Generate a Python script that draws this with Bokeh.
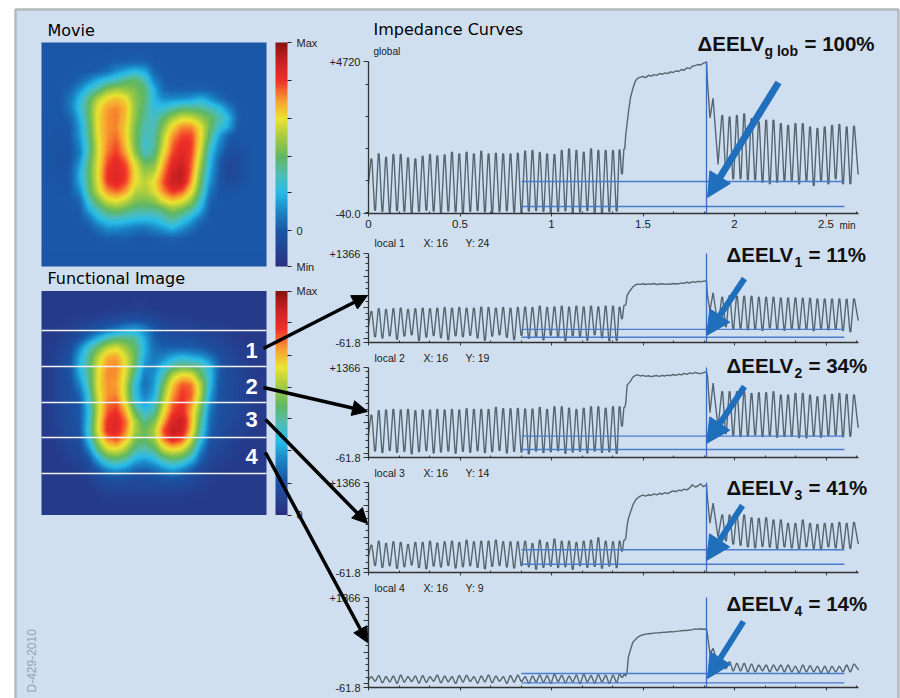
import numpy as np
from bokeh.plotting import figure
from bokeh.models import (Range1d, LinearAxis, FixedTicker, Arrow, NormalHead, ColorBar,
                          LinearColorMapper)
from bokeh.core.properties import value
from bokeh.embed import file_html
from bokeh.resources import INLINE

# ---------- shared time stamps (minutes) of the turning points ----------
t_pre_start = [0.000]
t_pre_peaks = [0.016,0.056,0.096,0.136,0.176,0.216,0.256,0.296,0.336,0.376,0.416,0.456,0.496,0.536,0.576,0.616,0.656,0.696,0.736,0.776,0.816,0.856,0.896,0.936,0.976,1.016,1.056,1.096,1.136,1.176,1.216,1.256,1.296,1.336,1.372,1.398]
t_pre_troughs = [0.036,0.076,0.116,0.156,0.196,0.236,0.276,0.316,0.356,0.396,0.436,0.476,0.516,0.556,0.596,0.636,0.676,0.716,0.756,0.796,0.836,0.876,0.916,0.956,0.996,1.036,1.076,1.116,1.156,1.196,1.236,1.276,1.316,1.356,1.385]
t_rise = [1.406,1.413,1.420,1.432,1.445,1.459,1.470,1.486,1.500,1.515,1.530,1.545,1.560,1.575,1.590,1.605,1.620,1.635,1.650,1.665,1.680,1.695,1.710,1.725,1.740,1.755,1.770,1.785,1.800,1.815,1.830,1.847]
t_post_head = [1.852,1.866,1.883,1.910]
t_post_peaks = [1.933,1.973,2.013,2.053,2.093,2.133,2.173,2.213,2.253,2.293,2.333,2.373,2.413,2.453,2.493,2.533,2.573,2.613,2.653]
t_post_troughs = [1.953,1.993,2.033,2.073,2.113,2.153,2.193,2.233,2.273,2.313,2.353,2.393,2.433,2.473,2.513,2.553,2.593,2.633,2.678]

# ---------- global curve ----------
g_start = [900]
g_pre_peaks = [1671,1828,1723,1807,1807,1702,1671,1754,1807,1765,1796,1880,1828,1880,1828,1911,1828,1848,1828,1828,1848,1911,1932,1869,1828,1807,1932,1984,1932,1880,1984,1932,1932,1932,1953,1984]
g_pre_troughs = [60,20,-10,45,30,-20,25,60,35,-15,40,15,-25,30,50,10,-30,20,45,5,-20,35,55,25,-10,30,45,-25,10,50,-15,-30,20,40,1202]
g_rise = [2450,2770,3120,3600,3880,4120,4190,4230,4250,4215,4290,4260,4310,4285,4345,4320,4365,4340,4395,4375,4430,4405,4470,4445,4520,4495,4570,4590,4625,4610,4670,4700]
g_post_head = [4100,2950,3570,1500]
g_post_peaks = [3030,2980,3030,3080,2930,2825,2880,2880,2775,2720,2775,2775,2670,2620,2670,2720,2750,2670,2690]
g_post_troughs = [1306,1046,1046,1015,1015,940,890,940,993,993,890,993,836,993,890,1046,890,890,1200]

# ---------- local 1 ----------
l1_start = [200]
l1_pre_peaks = [436,479,468,479,489,468,479,489,479,489,500,489,500,489,489,505,500,489,500,489,500,505,500,521,500,510,521,505,521,510,521,510,521,521,505,532]
l1_pre_troughs = [30,10,45,-10,40,60,-30,25,50,15,-20,45,30,55,10,-25,40,60,20,-15,50,5,35,-20,55,25,-35,45,30,-25,60,15,-35,-30,320]
l1_rise = [540,690,730,780,830,862,875,870,880,868,878,872,885,868,876,880,870,878,872,884,876,880,895,885,905,892,915,902,920,910,922,925]
l1_post_head = [700,450,740,200]
l1_post_peaks = [664,691,680,680,680,664,664,664,653,653,653,648,648,637,637,637,637,632,637]
l1_post_troughs = [190,150,165,140,155,130,170,150,135,160,145,150,125,165,140,155,130,110,300]

# ---------- local 2 ----------
l2_start = [300]
l2_pre_peaks = [611,680,691,701,691,701,680,691,691,701,691,701,691,712,701,701,701,733,712,712,717,707,707,733,701,744,744,722,701,722,744,744,722,744,744,733]
l2_pre_troughs = [40,15,50,20,35,-5,30,45,10,25,40,5,35,20,45,15,30,50,10,35,25,-5,40,15,30,45,5,25,35,10,40,20,30,5,436]
l2_rise = [800,1085,1110,1150,1215,1240,1250,1232,1242,1225,1235,1222,1232,1238,1225,1240,1232,1246,1236,1255,1242,1262,1250,1272,1258,1282,1268,1290,1275,1268,1285,1295]
l2_post_head = [1240,650,1120,420]
l2_post_peaks = [982,982,982,982,956,966,966,982,929,929,956,956,929,902,929,940,956,940,929]
l2_post_troughs = [320,285,270,275,295,270,280,260,270,280,255,250,280,260,285,290,265,275,420]

# ---------- local 3 ----------
l3_start = [200]
l3_pre_peaks = [373,436,399,426,415,383,415,415,436,404,426,436,415,452,426,436,436,452,426,426,426,436,399,452,415,468,436,436,415,436,452,489,436,426,436,452]
l3_pre_troughs = [50,20,45,5,30,55,15,-5,40,25,50,10,30,45,20,-5,35,50,25,10,45,30,-10,20,40,15,30,-10,45,20,35,5,40,15,277]
l3_rise = [480,680,790,900,1010,1085,1120,1150,1165,1150,1172,1160,1185,1170,1195,1180,1205,1190,1215,1232,1222,1245,1235,1262,1248,1280,1330,1295,1310,1345,1300,1330]
l3_post_head = [1120,720,1040,500]
l3_post_peaks = [850,850,850,850,807,796,807,770,770,717,717,770,717,701,717,717,733,717,733]
l3_post_troughs = [440,390,370,345,330,350,340,310,345,330,310,345,320,300,345,330,315,320,400]

# ---------- local 4 ----------
l4_start = [60]
l4_pre_peaks = [108,124,108,118,134,108,118,124,108,134,118,108,124,129,108,118,134,118,108,124,134,108,118,134,124,145,129,118,134,145,124,139,129,134,145,140]
l4_pre_troughs = [40,15,30,5,25,35,10,20,40,15,30,5,25,35,10,30,15,40,5,25,35,10,30,20,5,35,15,25,0,30,10,25,5,20,100]
l4_rise = [120,190,420,540,660,700,735,762,775,785,790,795,800,805,806,812,815,818,822,820,828,832,838,844,842,850,856,868,860,870,862,866]
l4_post_head = [780,480,560,300]
l4_post_peaks = [373,345,320,320,309,293,293,293,293,293,272,293,282,272,272,272,272,293,309]
l4_post_troughs = [240,205,205,188,188,205,188,205,188,188,177,188,188,177,177,188,188,188,225]

# ---------- reference lines ----------
ref_t_start = 0.836
ref_t_end = 2.60
ref_t_mark = 1.847
ref_upper = [962, 149, 277, 298, 161]
ref_lower = [179, 22, 65, 70, 12]

# ---------- labels ----------
panel_titles = ["global", "local 1", "local 2", "local 3", "local 4"]
panel_x = ["", "X: 16", "X: 16", "X: 16", "X: 16"]
panel_y = ["", "Y: 24", "Y: 19", "Y: 14", "Y: 9"]
delta_subs = ["g lob", "1", "2", "3", "4"]
delta_vals = ["= 100%", "= 11%", "= 34%", "= 41%", "= 14%"]
time_ticks = [0, 0.5, 1, 1.5, 2, 2.5]
time_labels = ["0", "0.5", "1", "1.5", "2", "2.5"]

# ---------- images: relative intensity on a coarse grid (top row first) ----------
movie_grid = [
[15,15,15,15,15,15,15,15,15,15,15,15,15,15,15,15,15,15,15,15,15,15,15,15,15],
[16,16,16,16,16,16,16,16,16,16,16,16,16,16,16,16,16,16,16,16,16,16,16,16,16],
[16,16,16,16,16,16,16,16,17,17,18,18,16,16,16,16,16,16,16,16,16,16,16,16,16],
[16,16,16,16,16,16,17,20,26,30,33,30,18,16,16,16,16,16,16,16,16,16,16,16,16],
[16,16,16,16,18,24,31,36,40,46,49,42,24,17,16,16,16,16,16,16,16,16,16,16,16],
[16,16,16,18,26,36,44,54,58,56,52,48,32,19,17,17,17,18,17,16,16,16,16,16,16],
[16,16,16,22,33,46,60,68,71,67,54,48,33,26,26,27,28,32,27,20,16,16,16,16,16],
[16,16,16,22,35,49,66,74,76,71,55,46,35,36,41,46,46,44,40,35,24,16,16,16,16],
[16,15,15,18,31,48,67,75,77,70,54,44,38,47,57,63,62,56,50,42,33,17,16,16,16],
[16,15,15,16,28,46,67,75,76,68,52,41,40,54,68,76,76,66,50,38,30,16,16,16,16],
[16,15,14,16,27,45,66,75,78,68,51,39,41,60,75,82,82,67,46,28,17,15,16,16,16],
[16,15,14,15,24,42,64,76,81,70,52,37,42,62,79,85,83,65,40,24,15,14,15,16,16],
[16,15,13,15,22,44,64,78,83,74,56,40,46,67,82,87,82,62,35,20,12,12,15,16,16],
[16,15,13,15,27,47,65,81,86,80,64,50,52,72,86,90,80,58,33,17,9,11,15,16,16],
[16,15,14,16,31,48,66,84,87,83,67,56,60,76,90,94,78,53,30,16,8,11,15,16,16],
[16,15,15,16,30,47,65,83,87,81,66,60,66,80,92,92,74,50,27,15,11,13,15,16,16],
[16,16,15,16,24,46,62,75,79,74,60,58,64,76,84,80,67,46,22,15,14,15,16,16,16],
[16,16,16,16,18,38,52,63,66,61,54,52,55,65,70,66,56,38,18,16,16,16,16,16,16],
[16,16,16,16,16,30,41,49,52,48,44,44,44,48,54,50,43,31,16,16,16,16,16,16,16],
[16,16,16,16,16,20,31,37,38,36,34,33,34,39,44,38,30,20,16,16,16,16,16,16,16],
[16,16,16,16,16,16,20,26,26,24,22,21,24,28,32,26,20,16,16,16,16,16,16,16,16],
[16,16,16,16,16,16,16,17,17,17,16,16,16,17,18,17,16,16,16,16,16,16,16,16,16],
[16,16,16,16,16,16,16,16,16,16,16,16,16,16,16,16,16,16,16,16,16,16,16,16,16],
[15,15,15,15,15,15,15,15,15,15,15,15,15,15,15,15,15,15,15,15,15,15,15,15,15],
[15,15,15,15,15,15,15,15,15,15,15,15,15,15,15,15,15,15,15,15,15,15,15,15,15],
]
functional_grid = [
[4,4,4,4,4,4,4,4,4,4,4,4,4,4,4,4,4,4,4,4,4,4,4,4,4],
[4,4,4,4,4,4,4,4,4,4,5,5,4,4,4,4,4,4,4,4,4,4,4,4,4],
[4,4,4,4,4,4,4,5,5,6,6,6,5,5,4,4,4,4,4,4,4,4,4,4,4],
[4,4,4,5,6,6,8,9,10,12,13,12,9,7,6,6,6,5,5,4,4,4,4,4,4],
[4,4,5,6,8,11,14,18,22,26,28,24,16,11,9,8,8,7,6,6,5,4,4,4,4],
[4,4,6,9,13,22,32,41,46,46,44,30,18,14,13,13,12,10,9,8,6,5,4,4,4],
[4,5,8,11,24,38,50,60,64,56,48,32,20,17,17,17,17,15,12,10,8,6,5,4,4],
[4,5,9,14,30,44,60,72,74,63,50,30,22,24,30,33,30,28,22,14,10,7,5,4,4],
[4,6,10,15,32,46,64,75,76,65,48,26,24,33,43,49,47,44,33,17,11,8,6,4,4],
[4,6,10,14,30,44,65,76,75,63,42,22,26,42,60,68,66,50,35,16,11,9,6,5,4],
[4,6,10,13,24,42,66,75,74,60,35,20,28,50,70,80,78,60,34,15,11,9,7,5,4],
[4,6,10,13,18,38,64,75,76,60,35,23,30,55,74,83,80,60,30,14,11,9,7,5,4],
[4,6,10,12,16,36,62,77,80,64,38,28,36,60,78,84,76,55,26,14,11,9,7,5,4],
[4,6,9,12,15,34,62,80,84,72,48,36,42,65,82,86,72,50,22,13,11,9,7,5,4],
[4,6,9,12,15,36,64,84,87,78,58,44,52,72,88,92,72,46,20,13,10,8,6,5,4],
[4,5,8,11,14,38,65,85,87,76,58,50,58,80,93,90,70,42,18,12,9,7,6,4,4],
[4,5,7,10,12,34,58,76,80,70,52,48,56,76,86,80,62,35,15,11,8,6,5,4,4],
[4,4,6,8,10,24,48,63,66,58,44,42,46,62,68,64,50,26,12,9,7,5,4,4,4],
[4,4,5,7,8,14,32,46,49,44,33,30,34,44,49,46,36,18,10,7,6,5,4,4,4],
[4,4,4,5,6,10,18,28,32,28,21,19,22,28,33,28,20,12,7,5,4,4,4,4,4],
[4,4,4,4,5,7,10,14,15,14,12,12,13,15,17,14,11,8,6,5,4,4,4,4,4],
[4,4,4,4,4,5,7,9,10,10,9,9,9,10,10,9,8,6,5,4,4,4,4,4,4],
[4,4,4,4,4,4,5,6,6,6,6,6,6,6,6,6,5,5,4,4,4,4,4,4,4],
[4,4,4,4,4,4,4,5,5,5,5,5,5,5,5,5,4,4,4,4,4,4,4,4,4],
[4,4,4,4,4,4,4,4,4,4,4,4,4,4,4,4,4,4,4,4,4,4,4,4,4],
]
ramp_levels = [0, 16, 25, 33, 41, 49, 58, 66, 74, 83, 92, 100]
ramp_colors = ["#2a3080","#1a58a8","#1a88c8","#28bce8","#50bcb4","#60b860","#a8cc40","#ece430","#f8a030","#f03028","#c82020","#881410"]

# ---------- helpers ----------
FLAT = 0.0025  # half width of the flattened top of each breath (the recorder's blocky peaks)

def weave_t(start, pk, tr):
    out = list(start)
    for i, v in enumerate(pk):
        out += [v - FLAT, v + FLAT]
        if i < len(tr):
            out += [tr[i] - FLAT, tr[i] + FLAT]
    return out

def weave_v(start, pk, tr):
    out = list(start)
    for i, v in enumerate(pk):
        out += [v, v]
        if i < len(tr):
            out += [tr[i], tr[i]]
    return out

t_all = (weave_t(t_pre_start, t_pre_peaks, t_pre_troughs) + t_rise + t_post_head
         + weave_t([], t_post_peaks, t_post_troughs))

def series(start, prep, pret, rise, head, postp, postt):
    return weave_v(start, prep, pret) + rise + head + weave_v([], postp, postt)

curves = [
    series(g_start, g_pre_peaks, g_pre_troughs, g_rise, g_post_head, g_post_peaks, g_post_troughs),
    series(l1_start, l1_pre_peaks, l1_pre_troughs, l1_rise, l1_post_head, l1_post_peaks, l1_post_troughs),
    series(l2_start, l2_pre_peaks, l2_pre_troughs, l2_rise, l2_post_head, l2_post_peaks, l2_post_troughs),
    series(l3_start, l3_pre_peaks, l3_pre_troughs, l3_rise, l3_post_head, l3_post_peaks, l3_post_troughs),
    series(l4_start, l4_pre_peaks, l4_pre_troughs, l4_rise, l4_post_head, l4_post_peaks, l4_post_troughs),
]

PX_L, PX_R, PX_T, PX_B = 0, 900, 0, 698
W, H = PX_R - PX_L, PX_B - PX_T

def xr(p0, v0, p1, v1):
    k = (v1 - v0) / (p1 - p0)
    return Range1d(start=v0 + (PX_L - p0) * k, end=v0 + (PX_R - p0) * k)

def yr(p0, v0, p1, v1):
    k = (v1 - v0) / (p1 - p0)
    return Range1d(start=v0 + (PX_B - p0) * k, end=v0 + (PX_T - p0) * k)

p = figure(width=W, height=H, x_range=Range1d(PX_L, PX_R), y_range=Range1d(PX_B, PX_T),
           x_axis_type=None, y_axis_type=None, toolbar_location=None, output_backend="svg",
           min_border=0, outline_line_color=None, background_fill_color="white",
           border_fill_color="white")
p.grid.visible = False

def label(x, y, txt, size=11, font="Liberation Sans", color="#1a1a1a", align="left",
          style="normal", angle=0.0):
    # y is the wanted text baseline; horizontal texts are anchored on their middle
    yy = y if angle else y - 0.3 * size
    p.text(x=[x], y=[yy], text=[txt], text_font=value(font), text_font_size=f"{size}px", text_color=color,
           text_align=align, text_baseline="middle", text_font_style=style, angle=angle)

# panel
p.quad(left=[15], right=[898], top=[9], bottom=[710], fill_color="#cfdff0",
       line_color="#b6b9bc", line_width=2.5)

# colour ramp
lv = np.array(ramp_levels, float)
rgb = np.array([[int(c[i:i+2], 16) for i in (1, 3, 5)] for c in ramp_colors], float)
grid100 = np.linspace(0, 100, 256)
palette = ["#%02x%02x%02x" % tuple(int(round(np.interp(g, lv, rgb[:, k]))) for k in range(3)) for g in grid100]
mapper = LinearColorMapper(palette=palette, low=0, high=100)

def display(grid):
    a = np.array(grid, float)[::-1]
    n = a.shape[0]
    fine = np.linspace(0, n - 1, 225)
    base = np.arange(n)
    b = np.array([np.interp(fine, base, r) for r in a])
    b = np.array([np.interp(fine, base, c) for c in b.T]).T
    for _ in range(3):
        c = b.copy()
        c[1:-1, :] = (b[:-2, :] + 2 * b[1:-1, :] + b[2:, :]) / 4
        d = c.copy()
        d[:, 1:-1] = (c[:, :-2] + 2 * c[:, 1:-1] + c[:, 2:]) / 4
        b = d
    return b

p.extra_y_ranges["movie"] = yr(266, 0, 42, 1)
p.extra_y_ranges["func"] = yr(514.5, 0, 290.5, 1)
p.image(image=[display(movie_grid)], x=41, y=0, dw=225, dh=1, color_mapper=mapper, y_range_name="movie")
p.image(image=[display(functional_grid)], x=41, y=0, dw=225, dh=1, color_mapper=mapper, y_range_name="func")

# horizontal stripes on the functional image (ROI boundaries)
for yy in (330, 366, 402, 437, 473):
    p.segment(x0=[41], x1=[266], y0=[yy], y1=[yy], line_color="#f2f2f6", line_width=1.6)

for xx, yy, n in ((251, 357, "1"), (251, 393, "2"), (251, 426, "3"), (251, 463, "4")):
    label(xx, yy, n, size=22, color="white", align="center", style="bold")

# colour bars
cb1 = ColorBar(color_mapper=mapper, location=(275, 432), width=12, height=224, padding=0, margin=0,
               ticker=FixedTicker(ticks=[0, 16, 33, 49, 66, 83, 100]),
               major_label_overrides={0: "Min", 16: "0", 33: "", 49: "", 66: "", 83: "", 100: "Max"},
               major_tick_in=0, major_tick_out=4, major_tick_line_color="#222222", bar_line_color=None,
               major_label_text_font="Liberation Sans", major_label_text_font_size="11px",
               major_label_text_color="#222222", label_standoff=5, background_fill_color=None,
               border_line_color=None)
cb2 = ColorBar(color_mapper=mapper, location=(275, 183.5), width=12, height=224, padding=0, margin=0,
               ticker=FixedTicker(ticks=[0, 14, 29, 43, 57, 71, 86, 100]),
               major_label_overrides={0: "0", 14: "", 29: "", 43: "", 57: "", 71: "", 86: "", 100: "Max"},
               major_tick_in=0, major_tick_out=4, major_tick_line_color="#222222", bar_line_color=None,
               major_label_text_font="Liberation Sans", major_label_text_font_size="11px",
               major_label_text_color="#222222", label_standoff=5, background_fill_color=None,
               border_line_color=None)
p.add_layout(cb1, "center")
p.add_layout(cb2, "center")

# headings
label(47, 35, "Movie", size=16, font="DejaVu Sans", color="#000000")
label(47, 283, "Functional Image", size=16, font="DejaVu Sans", color="#000000")
label(373, 34, "Impedance Curves", size=16, font="DejaVu Sans", color="#000000")
label(31.5, 692, "D-429-2010", size=12, color="#98a2ad", angle=np.pi / 2)

# curve panels
tops = [61, 253, 367, 482, 597]
bottoms = [213, 342, 457, 572, 687]
lows = [-40, -61.8, -61.8, -61.8, -61.8]
highs = [4720, 1366, 1366, 1366, 1366]
title_y = [54, 246, 361, 476, 591]
delta_base = [49, 260, 371, 493, 609]
delta_x = [697, 726, 726, 726, 726]
arrow_tail = [(778, 82), (744, 278), (744, 386), (742, 505), (743, 621)]
arrow_tip = [(707, 197), (706, 335), (706, 443), (706, 560), (707, 678)]
sub_x = [763, 793, 793, 793, 793]
val_x = [804, 808, 808, 808, 808]

minor_x = [1 / 6, 2 / 6, 4 / 6, 5 / 6, 7 / 6, 8 / 6, 10 / 6, 11 / 6, 13 / 6, 14 / 6, 16 / 6]

for i in range(5):
    tn, yn = f"t{i}", f"y{i}"
    p.extra_x_ranges[tn] = xr(368, 0, 368 + 183 * 2.5, 2.5)
    p.extra_y_ranges[yn] = yr(bottoms[i], lows[i], tops[i], highs[i])

    p.line(x=t_all, y=curves[i], x_range_name=tn, y_range_name=yn, line_color="#566771", line_width=1.4)
    # reference lines
    p.segment(x0=[ref_t_start] * 2, x1=[ref_t_end] * 2, y0=[ref_upper[i], ref_lower[i]],
              y1=[ref_upper[i], ref_lower[i]], x_range_name=tn, y_range_name=yn,
              line_color="#4a7ccb", line_width=1.4)
    p.segment(x0=[ref_t_mark], x1=[ref_t_mark], y0=[lows[i]], y1=[highs[i]], x_range_name=tn,
              y_range_name=yn, line_color="#3d6fc4", line_width=1.3)

    if i == 0:
        maj_y = [-40, 4720]
        min_y = [0, 1000, 2000, 3000, 4000]
        ov = {-40: "-40.0", 4720: "+4720"}
    else:
        maj_y = [-61.8, 0, 500, 1000, 1366]
        min_y = [100, 200, 300, 400, 600, 700, 800, 900, 1100, 1200, 1300]
        ov = {-61.8: "-61.8", 0: "", 500: "", 1000: "", 1366: "+1366"}
    ya = LinearAxis(x_range_name=tn, y_range_name=yn, fixed_location=0, bounds=(lows[i], highs[i]),
                    ticker=FixedTicker(ticks=maj_y, minor_ticks=min_y), major_label_overrides=ov,
                    axis_line_color="#333333", axis_line_width=1.3, major_tick_line_color="#333333",
                    minor_tick_line_color="#333333", major_tick_out=5, major_tick_in=0,
                    minor_tick_out=3, minor_tick_in=0, major_label_text_font="Liberation Sans",
                    major_label_text_font_size="11px", major_label_text_color="#222222",
                    major_label_standoff=3)
    p.add_layout(ya, "left")

    xa = LinearAxis(x_range_name=tn, y_range_name=yn, fixed_location=lows[i], bounds=(0, 2.678),
                    ticker=FixedTicker(ticks=time_ticks, minor_ticks=minor_x),
                    major_label_overrides=dict(zip(time_ticks, time_labels)),
                    axis_line_color="#333333", axis_line_width=1.3, major_tick_line_color="#333333",
                    minor_tick_line_color="#333333", major_tick_out=3, major_tick_in=0,
                    minor_tick_out=0, minor_tick_in=2, major_label_text_font="Liberation Sans",
                    major_label_text_font_size="11.5px", major_label_text_color="#222222",
                    major_label_standoff=3)
    if i > 0:
        xa.major_label_text_color = None
    p.add_layout(xa, "below")

    label(373 if i == 0 else 374, title_y[i], panel_titles[i], size=10 if i == 0 else 10.5)
    if panel_x[i]:
        label(423, title_y[i], panel_x[i], size=10.5)
        label(465, title_y[i], panel_y[i], size=10.5)

    dx = delta_x[i]
    label(dx, delta_base[i], "\u0394EELV", size=20.5, color="#101010", style="bold")
    label(sub_x[i] + 1, delta_base[i] + 6, delta_subs[i], size=14, color="#101010", style="bold")
    label(val_x[i], delta_base[i], delta_vals[i], size=20.5, color="#101010", style="bold")

    p.add_layout(Arrow(end=NormalHead(size=24, fill_color="#1f6fbd", line_color="#1f6fbd"),
                       x_start=arrow_tail[i][0], y_start=arrow_tail[i][1],
                       x_end=arrow_tip[i][0], y_end=arrow_tip[i][1],
                       line_color="#1f6fbd", line_width=7 if i == 0 else 6, level="overlay"))

label(839, 228, "min", size=10)

# black pointers
for (x0, y0, x1, y1) in ((263, 348, 367, 295), (263, 387, 367, 411), (265, 419, 367, 523), (265, 452, 367, 642)):
    p.add_layout(Arrow(end=NormalHead(size=15, fill_color="black", line_color="black"),
                       x_start=x0, y_start=y0, x_end=x1, y_end=y1, line_color="black",
                       line_width=3.5, level="overlay"))

open("out.html", "w").write(file_html(p, INLINE))
